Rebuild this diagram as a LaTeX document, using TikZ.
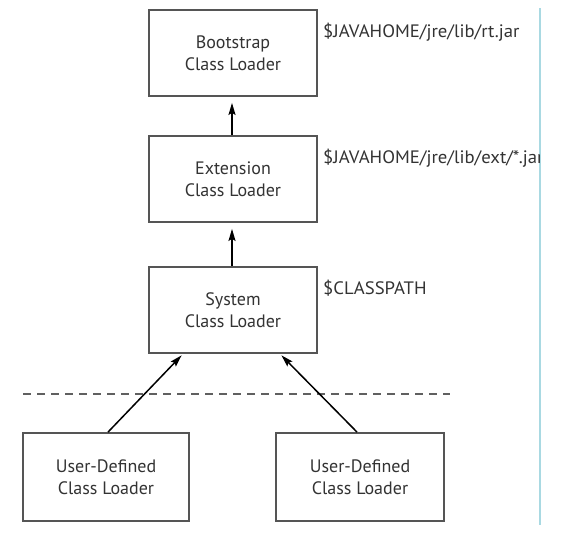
\documentclass[tikz,border=0pt]{standalone}
\usepackage{fontspec}
\setmainfont{PT Sans}
\newfontfamily\labelfont[FakeStretch=1.04]{PT Sans}
\usetikzlibrary{arrows.meta}
\definecolor{boxline}{HTML}{555555}
\definecolor{txt}{HTML}{333333}
\definecolor{sidebar}{HTML}{A9D9E2}
\definecolor{dashcol}{HTML}{606060}
\tikzset{
  loaderbox/.style={draw=boxline, line width=1.8pt, fill=white, minimum width=168pt, minimum height=86pt,
    inner sep=0pt, align=center, text=txt, font=\fontsize{18}{22}\selectfont},
  pathlabel/.style={anchor=west, inner sep=0pt, text=txt, font=\labelfont\fontsize{18}{20}\selectfont},
  uparrow/.style={-{Stealth[length=12pt,width=7pt,inset=2pt]}, line width=1.5pt, black},
}
\begin{document}
\begin{tikzpicture}[x=1pt,y=-1pt]
\useasboundingbox[fill=white] (0,0) rectangle (569,538);
% side bar
\coordinate (bartop) at (540,8);
\coordinate (barbot) at (540,525);
\draw[sidebar, line width=2pt] (bartop) -- (barbot);
% boxes
\node[loaderbox] (boot) at (233,53) {Bootstrap\\Class Loader};
\node[loaderbox] (ext) at (233,179) {Extension\\Class Loader};
\node[loaderbox] (sys) at (233,310) {System\\Class Loader};
\node[loaderbox, minimum width=166pt, minimum height=88pt] (user1) at (106,477) {User-Defined\\Class Loader};
\node[loaderbox, minimum width=168pt, minimum height=88pt] (user2) at (360,477) {User-Defined\\Class Loader};
% labels
\node[pathlabel] (lboot) at (323,32) {\$JAVAHOME/jre/lib/rt.jar};
\begin{scope}
\clip (0,0) rectangle (539,538);
\node[pathlabel] (lext) at (323,158) {\$JAVAHOME/jre/lib/ext/*.jar};
\end{scope}
\node[pathlabel] (lsys) at (323,288) {\$CLASSPATH};
% dashed separator
\coordinate (dl) at (23,394);
\coordinate (dr) at (450,394);
\draw[dashcol, line width=1.8pt, dash pattern=on 8pt off 6pt] (dl) -- (dr);
% arrows
\draw[uparrow, shorten >=6pt] (ext.north -| 232,0) -- (boot.south -| 232,0);
\draw[uparrow, shorten >=6pt] (sys.north -| 232,0) -- (ext.south -| 232,0);
\draw[uparrow, shorten >=2pt] (user1.north -| 108,0) -- (sys.south -| 183,0);
\draw[uparrow, shorten >=2pt] (user2.north -| 357,0) -- (sys.south -| 280,0);
\end{tikzpicture}
\end{document}
